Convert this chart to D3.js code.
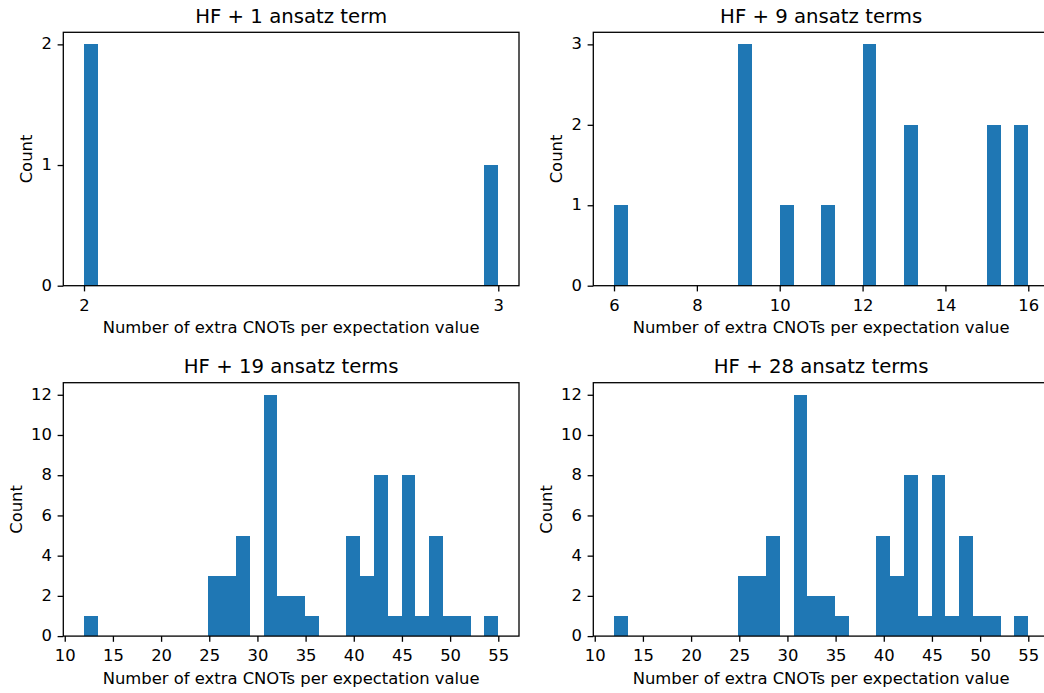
<!DOCTYPE html>
<html>
<head>
<meta charset="utf-8">
<script src="https://cdn.jsdelivr.net/npm/d3@7"></script>
<style>
  html, body { margin: 0; padding: 0; background: #fff; }
  svg { display: block; font-family: "DejaVu Sans", sans-serif; }
</style>
</head>
<body>
<div id="chart"></div>
<script>
// histogram counts, 30 equal bins between the min and max value of each run
const titles = ["HF + 1 ansatz term", "HF + 9 ansatz terms", "HF + 19 ansatz terms", "HF + 28 ansatz terms"];
const ranges = [[2, 3], [6, 16], [12, 55], [12, 55]];

const counts1 = [2,0,0,0,0,0,0,0,0,0, 0,0,0,0,0,0,0,0,0,0, 0,0,0,0,0,0,0,0,0,1];
const counts2 = [1,0,0,0,0,0,0,0,0,3, 0,0,1,0,0,1,0,0,3,0, 0,2,0,0,0,0,0,2,0,2];
const counts3 = [1,0,0,0,0,0,0,0,0,3, 3,5,0,12,2,2,1,0,0,5, 3,8,1,8,1,5,1,1,0,1];
const counts4 = [1,0,0,0,0,0,0,0,0,3, 3,5,0,12,2,2,1,0,0,5, 3,8,1,8,1,5,1,1,0,1];

const xTicks = [[2, 3], [6, 8, 10, 12, 14, 16], [10, 15, 20, 25, 30, 35, 40, 45, 50, 55], [10, 15, 20, 25, 30, 35, 40, 45, 50, 55]];
const yTicks = [[0, 1, 2], [0, 1, 2, 3], [0, 2, 4, 6, 8, 10, 12], [0, 2, 4, 6, 8, 10, 12]];

const xLabel = "Number of extra CNOTs per expectation value";
const yLabel = "Count";

const width = 1044;
const height = 693;
const allCounts = [counts1, counts2, counts3, counts4];

// axes boxes (the right column runs a little past the figure edge, as in the source image)
const colX = [63.3, 593.3];
const rowY = [32.3, 382.7];
const axW = 455.7;
const axH = 253.4;

const tickFont = 16.4;
const titleFont = 19.7;
const lw = 1.3;

const svg = d3.select("#chart")
  .append("svg")
  .attr("width", width)
  .attr("height", height)
  .style("background", "#fff");

allCounts.forEach((counts, i) => {
  const x0 = colX[i % 2];
  const y0 = rowY[Math.floor(i / 2)];
  const [lo, hi] = ranges[i];
  const pad = (hi - lo) * 0.05;
  const binW = (hi - lo) / counts.length;
  const maxC = d3.max(counts);

  const x = d3.scaleLinear().domain([lo - pad, hi + pad]).range([0, axW]);
  const y = d3.scaleLinear().domain([0, maxC * 1.05]).range([axH, 0]);

  const g = svg.append("g").attr("transform", `translate(${x0},${y0})`);

  const bins = counts.map((c, k) => ({ x0: lo + k * binW, x1: lo + (k + 1) * binW, c: c }))
    .filter(d => d.c > 0);

  g.append("g")
    .selectAll("rect")
    .data(bins)
    .join("rect")
    .attr("x", d => x(d.x0))
    .attr("width", d => x(d.x1) - x(d.x0))
    .attr("y", d => y(d.c))
    .attr("height", d => y(0) - y(d.c))
    .attr("fill", "#1f77b4")
    .attr("shape-rendering", "crispEdges");

  // spines
  g.append("rect")
    .attr("x", 0).attr("y", 0)
    .attr("width", axW).attr("height", axH)
    .attr("fill", "none")
    .attr("stroke", "#000")
    .attr("stroke-width", lw);

  const xAxis = g.append("g")
    .attr("transform", `translate(0,${axH})`)
    .call(d3.axisBottom(x).tickValues(xTicks[i]).tickFormat(d3.format("d")).tickSize(5.7).tickPadding(7.5));
  const yAxis = g.append("g")
    .call(d3.axisLeft(y).tickValues(yTicks[i]).tickFormat(d3.format("d")).tickSize(5.7).tickPadding(5.7));

  [xAxis, yAxis].forEach(ax => {
    ax.select(".domain").remove();
    ax.selectAll(".tick line").attr("stroke", "#000").attr("stroke-width", lw);
    ax.selectAll(".tick text")
      .attr("fill", "#000")
      .style("font-size", tickFont + "px")
      .style("font-family", "DejaVu Sans");
  });
  yAxis.selectAll(".tick text").attr("dy", "0.28em");

  // title
  g.append("text")
    .attr("x", axW / 2)
    .attr("y", -9.8)
    .attr("text-anchor", "middle")
    .style("font-size", titleFont + "px")
    .text(titles[i]);

  // x label
  g.append("text")
    .attr("x", axW / 2)
    .attr("y", axH + 47.8)
    .attr("text-anchor", "middle")
    .style("font-size", tickFont + "px")
    .text(xLabel);

  // y label, offset depends on widest tick label
  const digits = d3.max(yTicks[i], t => String(t).length);
  const labX = -31.3 - (digits - 1) * 10.4;
  g.append("text")
    .attr("transform", `translate(${labX},${axH / 2}) rotate(-90)`)
    .attr("text-anchor", "middle")
    .style("font-size", tickFont + "px")
    .text(yLabel);
});
</script>
</body>
</html>
